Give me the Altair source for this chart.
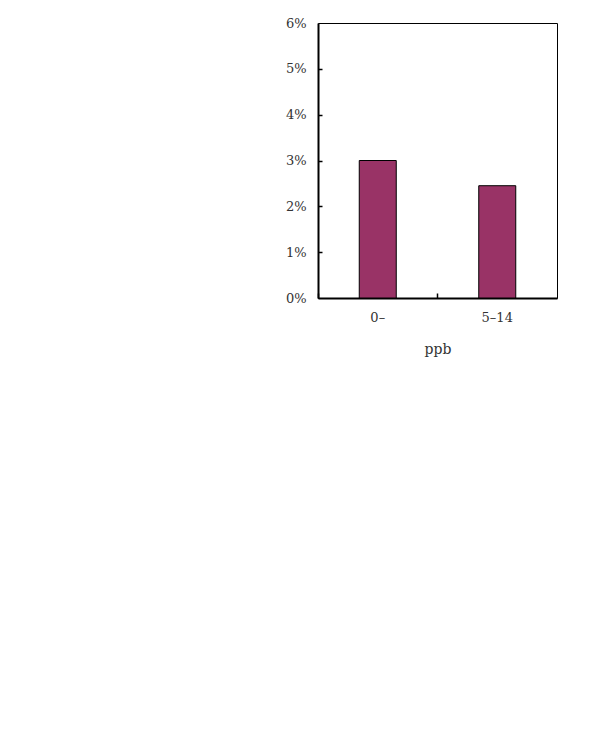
import altair as alt
import pandas as pd

categories = ["0–", "5–14"]
shares = [0.030, 0.0245]
y_ticks = [0, 0.01, 0.02, 0.03, 0.04, 0.05, 0.06]
inner_ticks = [0.01, 0.02, 0.03, 0.04, 0.05]

df = pd.DataFrame({"range": categories, "share": shares})

FONT = "DejaVu Serif"
xscale = alt.Scale(type="band", paddingInner=0, paddingOuter=0)
yscale = alt.Scale(domain=[0, 0.06])

bars = alt.Chart(df).mark_bar(
    color="#993366", stroke="black", strokeWidth=1, size=37
).encode(
    x=alt.X("range:N", sort=categories, scale=xscale,
            axis=alt.Axis(title="ppb", labelAngle=0, ticks=False, grid=False,
                          domainColor="black", domainWidth=2, labelPadding=13,
                          titlePadding=18, labelFont=FONT, titleFont=FONT,
                          labelFontSize=13, titleFontSize=14, titleFontWeight="normal",
                          labelColor="#333", titleColor="#333")),
    y=alt.Y("share:Q", scale=yscale,
            axis=alt.Axis(title=None, format=".0%", values=y_ticks, ticks=False, grid=False,
                          domainColor="black", domainWidth=2, labelPadding=12,
                          labelFont=FONT, labelFontSize=13, labelColor="#333")),
)

ticks = alt.Chart(df).mark_bar(opacity=0).encode(
    x=alt.X("range:N", sort=categories, scale=xscale,
            axis=alt.Axis(orient="top", offset=-275, bandPosition=0, labels=False,
                          domain=False, ticks=True, tickSize=5, tickColor="black",
                          tickWidth=1.5, grid=False, title=None)),
    y=alt.Y("share:Q", scale=yscale,
            axis=alt.Axis(orient="right", offset=-239, values=inner_ticks, labels=False,
                          domain=False, ticks=True, tickSize=4, tickColor="black",
                          tickWidth=1.5, grid=False, title=None)),
)

chart = alt.layer(bars, ticks).resolve_scale(x="independent", y="independent").properties(
    width=239, height=275,
    autosize=alt.AutoSizeParams(type="none"),
    padding={"left": 310, "top": 15, "right": 31, "bottom": 420},
    background="white",
).configure_view(stroke="black", strokeWidth=1)

chart.save("out.html", embed_options={"renderer": "svg", "actions": False})
